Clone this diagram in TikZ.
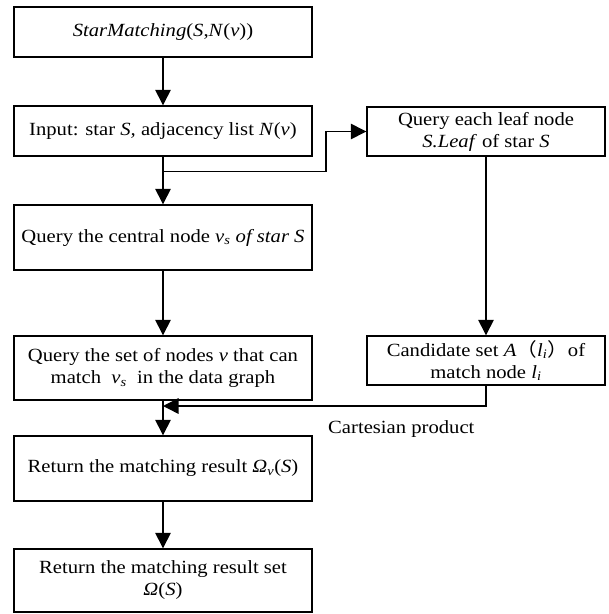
\documentclass[tikz,border=0pt]{standalone}
\usepackage{fontspec}
\setmainfont[FakeStretch=1.11]{Liberation Serif}
\newfontfamily\cjk[FakeStretch=1.11]{Noto Sans CJK SC}
\usetikzlibrary{arrows.meta,calc}
\begin{document}
\begin{tikzpicture}[x=1pt,y=-1pt,
  box/.style={draw, line width=1.4pt, inner sep=2pt, align=center,
    font=\fontsize{18.6}{22}\selectfont},
  leftbox/.style={box, minimum width=298pt},
  rightbox/.style={box, minimum width=238pt},
  flow/.style={line width=1.4pt, -{Triangle[length=15.5pt,width=15.5pt]}},
  lbl/.style={font=\fontsize{18.6}{22}\selectfont, inner sep=0pt}]
\useasboundingbox (0,0) rectangle (609,614);

% main column
\node[leftbox, minimum height=50pt] (b1) at (163,32)
  {\textit{StarMatching}(\textit{S},\textit{N}(\textit{v}))};
\node[leftbox, minimum height=50pt] (b2) at (163,131)
  {Input: star \textit{S,} adjacency list \textit{N}(\textit{v})};
\node[leftbox, minimum height=65pt] (b3) at (163,237.5)
  {Query the central node \textit{v}\textsubscript{\textit{s}} \textit{of star S}};
\node[leftbox, minimum height=64pt] (b4) at (163,368)
  {Query the set of nodes \textit{v} that can\\match~ \textit{v}\textsubscript{\textit{s}} ~in the data graph};
\node[leftbox, minimum height=65pt] (b5) at (163,468.5)
  {Return the matching result \textit{Ω}\textsubscript{\textit{v}}(\textit{S})};
\node[leftbox, minimum height=63pt] (b6) at (163,580.5)
  {Return the matching result set\\\textit{Ω}(\textit{S})};

% leaf column
\node[rightbox, minimum height=49pt] (r1) at (486,131.5)
  {Query each leaf node\\\textit{S.Leaf} of star \textit{S}};
\node[rightbox, minimum height=49pt] (r2) at (486,360.5)
  {Candidate set \textit{A}{\cjk（}\textit{l}\textsubscript{\textit{i}}{\cjk）}of\\match node \textit{l}\textsubscript{\textit{i}}};

\node[lbl, anchor=west] (cp) at (328,429) {Cartesian product};

% junction points
\coordinate (j1) at ($(b2.south)!0.31!(b3.north)$);
\coordinate (kx) at (326,0);
\coordinate (j2) at (b4.south |- 0,406);

% connectors
\draw[flow] (b1) -- (b2);
\draw[flow] (b2) -- (b3);
\draw[flow] (b3) -- (b4);
\draw[flow] (b4) -- (b5);
\draw[flow] (b5) -- (b6);
\draw[flow] (j1) -- (j1 -| kx) |- (r1.west);
\draw[flow] (r1) -- (r2);
\draw[flow] (r2.south) |- (j2);
\end{tikzpicture}
\end{document}
